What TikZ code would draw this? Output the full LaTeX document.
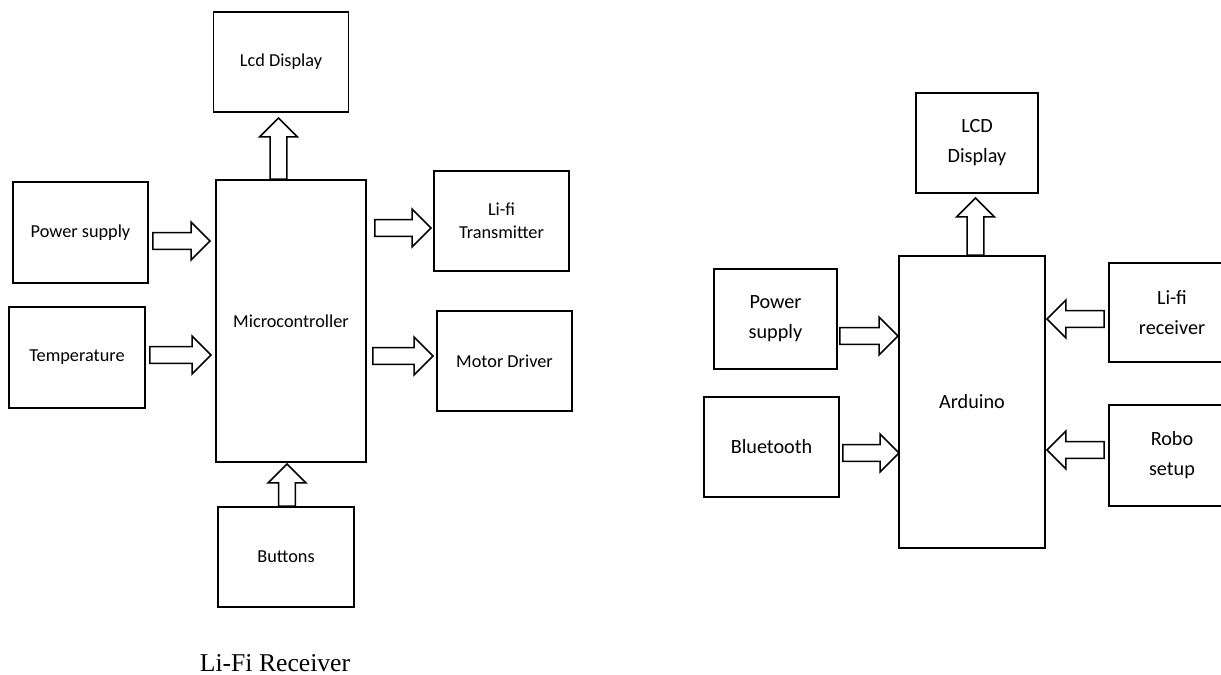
\documentclass[tikz,border=0pt]{standalone}
\usepackage{fontspec}
\setmainfont{Carlito}
\newfontfamily\capfont{Liberation Serif}
\usetikzlibrary{calc}
\tikzset{
  blk/.style 2 args={draw, line width=1.1pt, minimum width=#1*0.02cm, minimum height=#2*0.02cm, align=center, inner sep=1pt},
  lefttxt/.style={font=\fontsize{10.4}{13}\selectfont},
  righttxt/.style={font=\fontsize{11.5}{17}\selectfont},
  fatline/.style={line width=0.85pt, line join=miter, fill=white},
}
\newcommand{\fatarrow}[2]{%
  \coordinate (hb) at ($(#2)!10.8pt!(#1)$);
  \draw[fatline] ($(#1)!4.8pt!90:(#2)$) -- ($(hb)!4.8pt!-90:(#1)$) -- ($(hb)!10.8pt!-90:(#1)$) -- (#2)
    -- ($(hb)!10.8pt!90:(#1)$) -- ($(hb)!4.8pt!90:(#1)$) -- ($(#1)!4.8pt!-90:(#2)$) -- cycle;}

\begin{document}
\begin{tikzpicture}[x=0.02cm, y=-0.02cm]
  \useasboundingbox (0,0) rectangle (1221,675);
  \clip (0,0) rectangle (1221,675);
  % Li-Fi receiver side
  \node[blk={135}{100}, lefttxt] (lcd) at (281,62) {Lcd Display};
  \node[blk={150}{282}, lefttxt] (mc) at (291,321) {Microcontroller};
  \node[blk={135}{101}, lefttxt] (ps) at (80.5,232.5) {Power supply};
  \node[blk={136}{101}, lefttxt] (tp) at (77,357.5) {Temperature};
  \node[blk={135}{100}, lefttxt] (lt) at (501.5,221) {Li-fi\\Transmitter};
  \node[blk={135}{100}, lefttxt] (md) at (504.5,361) {Motor Driver};
  \node[blk={136}{100}, lefttxt] (bt) at (286,557) {Buttons};
  \node[anchor=base, inner sep=0pt, text depth=0pt, font=\capfont\fontsize{14.6}{17}\selectfont] (cap) at (275,671) {Li-Fi Receiver};

  \coordinate (psout) at ($(ps.east)+(4,8.5)$);
  \coordinate (psin) at ($(mc.west |- psout)+(-5,0)$);
  \coordinate (tpout) at ($(tp.east)+(4,-2.5)$);
  \coordinate (tpin) at ($(mc.west |- tpout)+(-4,0)$);
  \coordinate (ltout) at ($(mc.east |- lt.west)+(8,7)$);
  \coordinate (ltin) at ($(lt.west |- ltout)+(-2,0)$);
  \coordinate (mdout) at ($(mc.east |- md.west)+(6,-5)$);
  \coordinate (mdin) at ($(md.west |- mdout)+(-3,0)$);
  \coordinate (lcdout) at ($(mc.north)+(-12.5,0)$);
  \coordinate (lcdin) at ($(lcdout |- lcd.south)+(0,5)$);
  \coordinate (btout) at ($(bt.north)+(1,0)$);
  \coordinate (btin) at ($(btout |- mc.south)+(0,1)$);
  \fatarrow{psout}{psin}
  \fatarrow{tpout}{tpin}
  \fatarrow{ltout}{ltin}
  \fatarrow{mdout}{mdin}
  \fatarrow{lcdout}{lcdin}
  \fatarrow{btout}{btin}

  % Arduino side
  \node[blk={122}{100}, righttxt] (lcd2) at (977,143) {LCD\\Display};
  \node[blk={146}{292}, righttxt] (ard) at (972,402) {Arduino};
  \node[blk={123}{100}, righttxt] (ps2) at (775.5,319) {Power\\supply};
  \node[blk={135}{100}, righttxt] (bt2) at (771.5,447) {Bluetooth};
  \node[blk={126}{99}, righttxt] (lr) at (1172,312.5) {Li-fi\\receiver};
  \node[blk={126}{101}, righttxt] (rs) at (1172,455.5) {Robo\\setup};

  \coordinate (ps2out) at ($(ps2.east)+(2,17)$);
  \coordinate (ps2in) at (ard.west |- ps2out);
  \coordinate (bt2out) at ($(bt2.east)+(3,6)$);
  \coordinate (bt2in) at ($(ard.west |- bt2out)+(1,0)$);
  \coordinate (lrout) at ($(lr.west)+(-4,6.5)$);
  \coordinate (lrin) at ($(ard.east |- lrout)+(1,0)$);
  \coordinate (rsout) at ($(rs.west)+(-4,-5.5)$);
  \coordinate (rsin) at ($(ard.east |- rsout)+(1,0)$);
  \coordinate (lcd2out) at ($(ard.north)+(3.5,0)$);
  \coordinate (lcd2in) at ($(lcd2out |- lcd2.south)+(0,4)$);
  \fatarrow{ps2out}{ps2in}
  \fatarrow{bt2out}{bt2in}
  \fatarrow{lrout}{lrin}
  \fatarrow{rsout}{rsin}
  \fatarrow{lcd2out}{lcd2in}
\end{tikzpicture}
\end{document}
